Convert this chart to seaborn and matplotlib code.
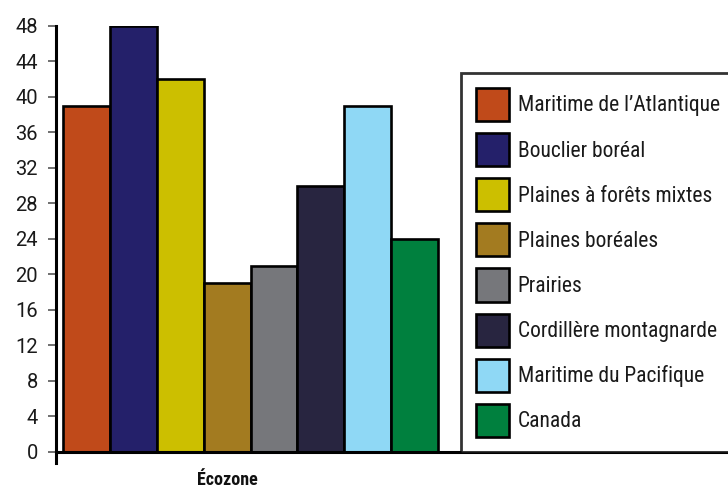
import matplotlib
matplotlib.use("Agg")
import matplotlib.pyplot as plt
import seaborn as sns
import pandas as pd

# Data
zones = [
    "Maritime de l\u2019Atlantique",
    "Bouclier boréal",
    "Plaines à forêts mixtes",
    "Plaines boréales",
    "Prairies",
    "Cordillère montagnarde",
    "Maritime du Pacifique",
    "Canada",
]
values = [39, 48, 42, 19, 21, 30, 39, 24]
colors = ["#C04A1A", "#24206A", "#CCBF00", "#A37B20",
          "#76777B", "#282540", "#8FD8F5", "#00803E"]
group_label = "Écozone"
yticks = list(range(0, 49, 4))

sns.set_theme(style="white")
plt.rcParams["font.family"] = ["Roboto Condensed", "Liberation Sans", "DejaVu Sans"]

df = pd.DataFrame({"groupe": [group_label] * len(zones), "zone": zones, "valeur": values})

fig = plt.figure(figsize=(7.28, 4.90), dpi=100)
ax = fig.add_axes([56 / 728, 27 / 490, 672 / 728, (463 - 26) / 490])

sns.barplot(data=df, x="groupe", y="valeur", hue="zone", hue_order=zones,
            palette=colors, saturation=1, edgecolor="black", linewidth=1.9,
            errorbar=None, width=0.8, gap=0, ax=ax, legend=True)

# Spines first: moving a spine resets the tick objects
for side in ["top", "right"]:
    ax.spines[side].set_visible(False)
for side in ["left", "bottom"]:
    ax.spines[side].set_linewidth(2.2)
    ax.spines[side].set_color("black")
ax.spines["bottom"].set_position(("data", 0))

unit = 375 / 0.8  # pixels per data unit along x
ax.set_xlim(-0.4 - 7 / unit, -0.4 + (728 - 63) / unit)
ax.set_ylim(-1.24, 48)
ax.tick_params(axis="y", length=6, width=1.4, color="#6f6f6f", pad=7, left=True,
               labelsize=14.5, labelcolor="#1a1a1a")
ax.tick_params(axis="x", length=0, pad=14, labelsize=13, labelcolor="#111111")
ax.set_yticks(yticks)
ax.set_yticklabels([str(t) for t in yticks],
                   family=["Roboto", "Liberation Sans", "DejaVu Sans"])
ax.set_xticks([-0.4 + (227 - 63) / unit])
ax.set_xticklabels([group_label], fontweight="bold")
ax.set_xlabel("")
ax.set_ylabel("")

handles, labels = ax.get_legend_handles_labels()
leg = ax.legend(handles, labels, loc="upper left",
                bbox_to_anchor=(461 / 728, (490 - 73) / 490),
                bbox_transform=fig.transFigure,
                frameon=True, fancybox=False, edgecolor="black",
                prop={"size": 15.5}, handlelength=1.535, handleheight=1.985,
                labelspacing=0.56, handletextpad=0.4, borderpad=0.7,
                borderaxespad=0)
leg.get_frame().set_linewidth(2.0)
for h in leg.legend_handles:
    h.set_edgecolor("black")
    h.set_linewidth(1.9)
for t in leg.get_texts():
    t.set_color("#1a1a1a")

fig.savefig("out.png", dpi=100)
